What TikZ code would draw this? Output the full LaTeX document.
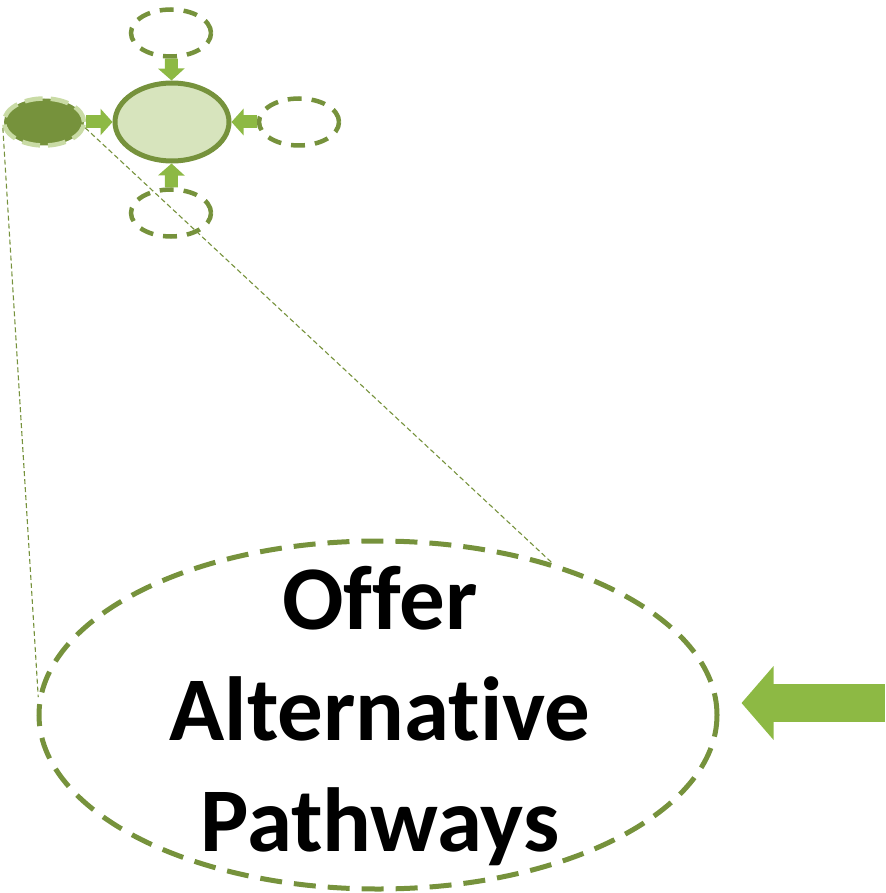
\documentclass[tikz,border=0pt]{standalone}
\usepackage{fontspec}
\setmainfont[Ligatures=NoCommon]{Carlito}
\usetikzlibrary{shapes.geometric,arrows.meta}
\definecolor{olive}{HTML}{76923C}
\definecolor{pale}{HTML}{D7E4BD}
\definecolor{paledash}{HTML}{C9DBA5}
\definecolor{arrowgreen}{HTML}{8DB944}
\begin{document}
\begin{tikzpicture}[x=1pt, y=-1pt,
  spot/.style={ellipse, draw=olive, line width=4.5pt, dash pattern=on 14pt off 10pt, minimum width=80pt, minimum height=47pt, inner sep=0pt},
  feed/.style={arrowgreen, line width=13pt, -{Triangle[width=26pt,length=12pt]}},
  zoomline/.style={olive, line width=1.1pt, dash pattern=on 5pt off 3pt}]
\useasboundingbox (0,0) rectangle (885,893);
\node[spot] (up) at (171,33){};
\node[spot] (right) at (299,122){};
\node[spot] (down) at (171,213){};
\node[ellipse, fill=olive, draw=paledash, line width=4.5pt, dash pattern=on 18pt off 8pt, minimum width=80pt, minimum height=47pt, inner sep=0pt] (small) at (44,122){};
\node[ellipse, fill=pale, draw=olive, line width=5pt, minimum width=114pt, minimum height=78pt, inner sep=0pt] (main) at (172,122){};
\draw[feed] (up) -- (main);
\draw[feed] (right) -- (main);
\draw[feed] (down) -- (main);
\draw[feed] (small) -- (main);

\node[ellipse, draw=olive, line width=5pt, dash pattern=on 22pt off 12pt, minimum width=678pt, minimum height=348pt, inner sep=0pt] (big) at (378,715){};
\node[align=center, font=\fontsize{91}{111}\selectfont\bfseries, inner sep=0pt] (txt) at (380,716){Offer\\Alternative\\Pathways};
\draw[zoomline] (small.188) -- (big.177);
\draw[zoomline] (small.-8) -- (big.41);

\coordinate (push) at (885,703);
\draw[arrowgreen, line width=38pt, -{Triangle[width=72pt,length=32pt]}, shorten >=22pt] (push) -- (big.east |- push);

\end{tikzpicture}
\end{document}
